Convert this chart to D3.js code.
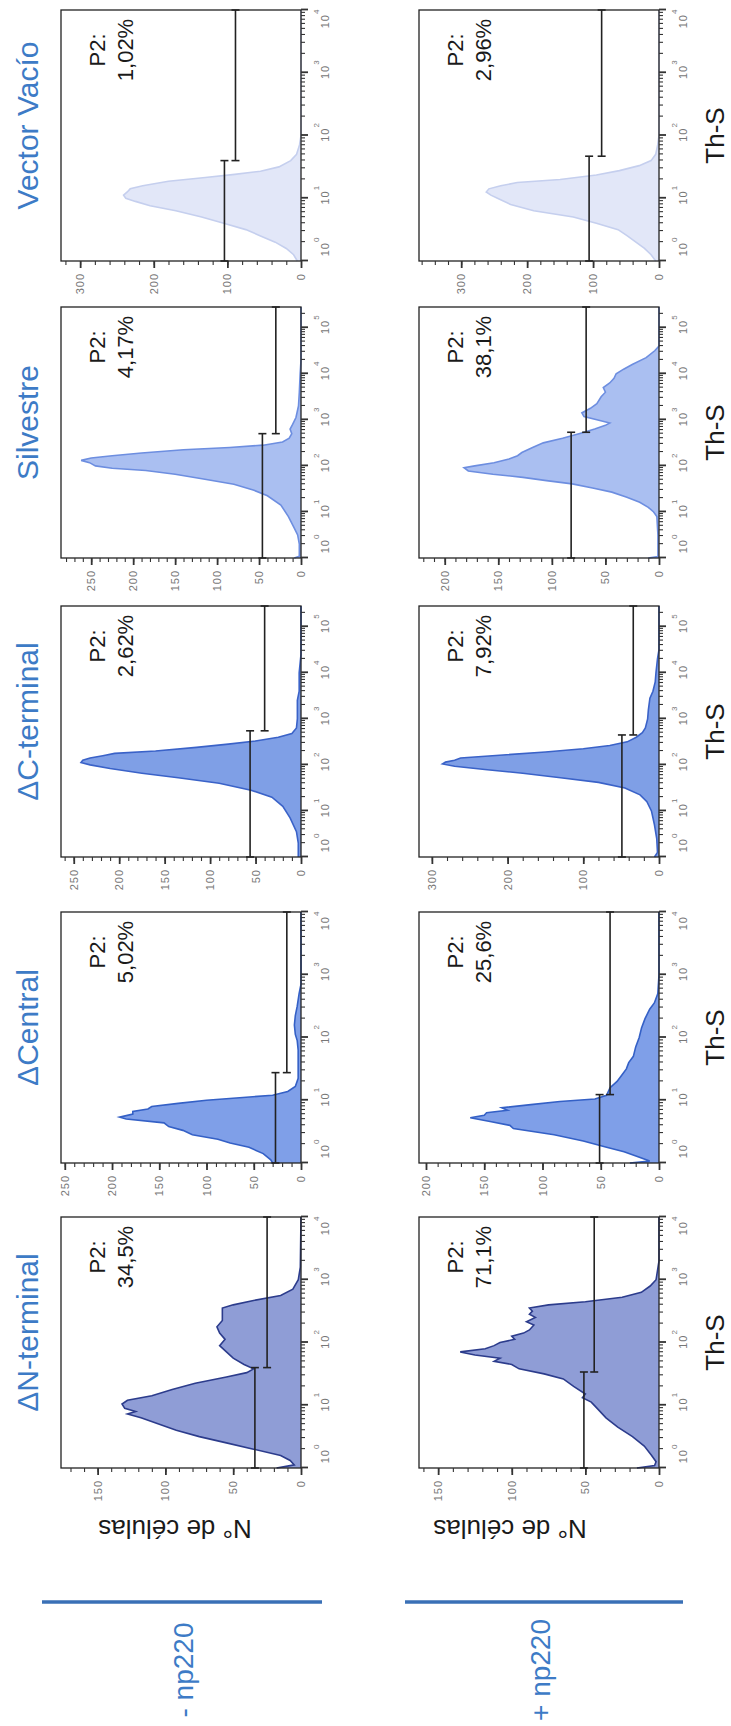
<!DOCTYPE html>
<html>
<head>
<meta charset="utf-8">
<script src="https://cdn.jsdelivr.net/npm/d3@7"></script>
<style>
body { margin: 0; background: #fff; }
text { font-family: "Liberation Sans", Arial, sans-serif; }
</style>
</head>
<body>
<div id="chart"></div>
<script>
// panel order, left to right, as the figure reads before it is turned on its side
var constructs = ["ΔN-terminal", "ΔCentral", "ΔC-terminal", "Silvestre", "Vector Vacío"];
var conditions = ["- np220", "+ np220"];
var p2Minus = ["34,5%", "5,02%", "2,62%", "4,17%", "1,02%"];
var p2Plus = ["71,1%", "25,6%", "7,92%", "38,1%", "2,96%"];

// top of the Th-S axis, in decades
var decadesMax = [4, 4, 5.45, 5.45, 4];
// top of the count axis and its labelled step
var countMaxMinus = [177, 254, 264, 286, 326];
var countMaxPlus = [163, 206, 317, 224, 364];
var countStepMinus = [50, 50, 50, 50, 100];
var countStepPlus = [50, 50, 100, 50, 100];

// gates: [P1/P2 boundary (log10 Th-S), P1 bar height, P2 bar height]
var gatesMinus = [[1.6, 34, 25], [1.44, 27, 15], [2.74, 56, 40], [2.7, 46, 30], [1.6, 104, 89]];
var gatesPlus = [[1.53, 51, 44], [1.09, 51, 42], [2.65, 49, 34], [2.73, 82, 68], [1.67, 106, 87]];

// histograms, points are [log10 Th-S, number of cells]
var histNtermMinus = [[0,18],[0.05,5],[0.12,8],[0.2,15],[0.3,35],[0.4,55],[0.5,75],[0.6,92],[0.7,105],[0.8,118],[0.86,128],[0.9,122],[0.95,130],[1.02,132],[1.08,128],[1.15,110],[1.25,95],[1.35,78],[1.45,55],[1.52,40],[1.58,35],[1.65,42],[1.75,50],[1.85,55],[1.95,60],[2.05,56],[2.15,60],[2.25,62],[2.35,58],[2.45,58],[2.55,58],[2.6,50],[2.67,35],[2.75,15],[2.85,6],[3.0,2],[3.2,0.5],[4,0]];
var histNtermPlus = [[0,15],[0.04,3],[0.1,2],[0.2,5],[0.35,10],[0.5,18],[0.65,28],[0.8,36],[0.95,42],[1.05,46],[1.12,52],[1.18,50],[1.3,58],[1.42,65],[1.5,78],[1.58,95],[1.65,100],[1.7,112],[1.75,108],[1.8,125],[1.85,135],[1.9,118],[1.95,112],[2.0,108],[2.05,98],[2.1,100],[2.15,92],[2.2,88],[2.28,85],[2.33,90],[2.4,84],[2.45,88],[2.5,86],[2.55,88],[2.6,75],[2.65,50],[2.72,25],[2.8,12],[2.9,6],[3.0,2],[3.3,0],[4,0]];
var histCentralMinus = [[0,30],[0.05,32],[0.15,40],[0.25,55],[0.32,75],[0.38,88],[0.45,115],[0.52,125],[0.58,140],[0.64,145],[0.7,185],[0.73,192],[0.78,178],[0.82,178],[0.86,162],[0.9,158],[0.95,130],[1.0,100],[1.04,65],[1.08,30],[1.14,14],[1.22,6],[1.35,3],[1.6,3],[1.8,3],[1.95,4],[2.05,6],[2.2,7],[2.35,6],[2.5,4],[2.7,2],[2.85,0],[4,0]];
var histCentralPlus = [[0,25],[0.03,8],[0.1,18],[0.18,30],[0.25,45],[0.35,65],[0.45,90],[0.55,125],[0.6,128],[0.66,145],[0.72,162],[0.76,150],[0.8,148],[0.84,130],[0.88,135],[0.93,110],[0.98,85],[1.02,55],[1.08,45],[1.2,42],[1.3,36],[1.4,32],[1.5,28],[1.6,26],[1.7,22],[1.85,20],[2.0,17],[2.15,15],[2.3,12],[2.45,8],[2.55,4],[2.7,1],[3,0],[4,0]];
var histCtermMinus = [[0,3],[0.3,3],[0.55,5],[0.85,12],[1.1,20],[1.3,32],[1.45,55],[1.6,90],[1.72,135],[1.82,175],[1.92,210],[2.0,232],[2.05,242],[2.1,240],[2.15,232],[2.2,218],[2.25,205],[2.3,160],[2.38,115],[2.45,80],[2.52,50],[2.6,25],[2.68,10],[2.8,5],[3.0,4],[3.4,4],[3.6,2],[4.0,2],[4.4,0],[5.45,0]];
var histCtermPlus = [[0,6],[0.1,2],[0.4,3],[0.7,6],[1.0,10],[1.2,16],[1.35,25],[1.5,45],[1.62,80],[1.72,130],[1.82,180],[1.9,230],[1.97,270],[2.02,286],[2.06,282],[2.1,270],[2.15,262],[2.2,220],[2.28,150],[2.35,100],[2.42,65],[2.5,42],[2.6,30],[2.7,22],[2.8,18],[3.0,15],[3.2,14],[3.45,12],[3.6,8],[3.8,5],[4.0,4],[4.3,2],[4.5,0],[5.45,0]];
var histWildMinus = [[0,8],[0.04,2],[0.3,2],[0.5,4],[0.65,8],[0.9,15],[1.15,24],[1.35,40],[1.47,56],[1.6,80],[1.72,118],[1.82,150],[1.9,185],[1.95,225],[2.0,245],[2.07,252],[2.12,262],[2.17,250],[2.22,225],[2.28,190],[2.35,140],[2.4,85],[2.45,45],[2.52,22],[2.6,14],[2.7,11],[2.8,13],[2.9,10],[3.05,6],[3.3,3],[3.6,2],[4.0,1],[4.3,0],[5.45,0]];
var histWildPlus = [[0,10],[0.03,1],[0.5,1],[0.9,2],[1.0,5],[1.1,10],[1.21,18],[1.32,30],[1.43,44],[1.52,62],[1.61,81],[1.68,105],[1.75,127],[1.82,155],[1.89,178],[1.96,182],[2.0,172],[2.07,154],[2.15,140],[2.22,132],[2.29,128],[2.4,118],[2.5,108],[2.6,90],[2.71,73],[2.8,60],[2.88,50],[2.93,46],[3.0,58],[3.07,70],[3.15,72],[3.25,64],[3.35,58],[3.5,54],[3.6,50],[3.7,52],[3.8,46],[3.9,42],[4.0,40],[4.1,33],[4.2,25],[4.35,12],[4.5,4],[4.6,0],[5.45,0]];
var histEmptyMinus = [[0,5],[0.1,10],[0.2,20],[0.3,35],[0.4,55],[0.5,75],[0.6,105],[0.7,135],[0.8,170],[0.88,205],[0.95,225],[1.0,238],[1.05,241],[1.1,236],[1.15,232],[1.2,215],[1.27,180],[1.33,130],[1.38,90],[1.43,55],[1.5,30],[1.6,14],[1.7,6],[1.85,2],[2.0,0],[4,0]];
var histEmptyPlus = [[0,5],[0.1,12],[0.2,22],[0.3,35],[0.4,48],[0.5,62],[0.6,95],[0.7,130],[0.8,190],[0.9,225],[1.0,245],[1.05,255],[1.1,262],[1.15,258],[1.2,240],[1.25,215],[1.3,150],[1.37,95],[1.44,60],[1.52,30],[1.6,12],[1.7,5],[1.85,2],[2.0,0],[4,0]];

var histMinus = [histNtermMinus, histCentralMinus, histCtermMinus, histWildMinus, histEmptyMinus];
var histPlus = [histNtermPlus, histCentralPlus, histCtermPlus, histWildPlus, histEmptyPlus];

var fills = ["#8f9dd6", "#7f9fe8", "#7f9fe6", "#aabff1", "#e2e7f8"];
var strokes = ["#2c3c8c", "#3460c6", "#3a62c8", "#6d8ee0", "#c5cfee"];
var blue = "#3d7bc6";

// the figure is laid out landscape, then turned a quarter turn anticlockwise
var W = 1726, H = 731;
var svg = d3.select("#chart").append("svg")
    .attr("width", H)
    .attr("height", W);
var fig = svg.append("g")
    .attr("transform", "translate(0," + W + ") rotate(-90)");

var panelLeft = [258, 563, 869, 1168, 1465];
var panelW = 251, panelH = 240;
var rowTop = [61, 419];

var rows = [
  {p2: p2Minus, cmax: countMaxMinus, step: countStepMinus, gates: gatesMinus, hist: histMinus},
  {p2: p2Plus, cmax: countMaxPlus, step: countStepPlus, gates: gatesPlus, hist: histPlus}
];

rows.forEach(function(row, r){
  var y0 = rowTop[r];

  constructs.forEach(function(name, c){
    var x0 = panelLeft[c];
    var x = d3.scaleLog().domain([1, Math.pow(10, decadesMax[c])]).range([x0, x0 + panelW]);
    var y = d3.scaleLinear().domain([0, row.cmax[c]]).range([y0 + panelH, y0]);
    var g = fig.append("g");

    // histogram
    var area = d3.area()
      .x(function(d){ return x(Math.pow(10, d[0])); })
      .y0(y(0))
      .y1(function(d){ return y(d[1]); });
    var line = d3.line()
      .x(function(d){ return x(Math.pow(10, d[0])); })
      .y(function(d){ return y(d[1]); });
    g.append("path").datum(row.hist[c])
      .attr("d", area)
      .attr("fill", fills[c]);
    g.append("path").datum(row.hist[c])
      .attr("d", line)
      .attr("fill", "none")
      .attr("stroke", strokes[c])
      .attr("stroke-width", 1.6);

    // frame
    g.append("rect")
      .attr("x", x0).attr("y", y0)
      .attr("width", panelW).attr("height", panelH)
      .attr("fill", "none")
      .attr("stroke", "#222")
      .attr("stroke-width", 1.3);

    // count axis
    var step = row.step[c];
    var yMajor = d3.range(0, row.cmax[c] + 0.1, step);
    var yMinor = d3.range(0, row.cmax[c] + 0.1, step / 5);
    var yMin = g.append("g").attr("transform", "translate(" + x0 + ",0)")
      .call(d3.axisLeft(y).tickValues(yMinor).tickSize(4).tickFormat(""));
    var yMaj = g.append("g").attr("transform", "translate(" + x0 + ",0)")
      .call(d3.axisLeft(y).tickValues(yMajor).tickSize(7).tickPadding(5).tickFormat(d3.format("d")));
    [yMin, yMaj].forEach(function(a){
      a.select(".domain").remove();
      a.selectAll("line").attr("stroke", "#333").attr("stroke-width", 1.1);
    });
    yMaj.selectAll("line").attr("stroke-width", 1.8);
    yMaj.selectAll("text")
      .attr("font-size", 11)
      .attr("fill", "#777")
      .attr("letter-spacing", 1)
      .style("font-family", '"Liberation Sans", Arial, sans-serif');

    // Th-S axis, log decades with minor ticks
    var top = decadesMax[c];
    var xMajor = d3.range(0, Math.floor(top) + 1).map(function(k){ return Math.pow(10, k); });
    var xMinor = [];
    xMajor.forEach(function(v){
      for (var m = 2; m < 10; m++){
        if (Math.log10(m * v) <= top) xMinor.push(m * v);
      }
    });
    var xMin = g.append("g").attr("transform", "translate(0," + (y0 + panelH) + ")")
      .call(d3.axisBottom(x).tickValues(xMinor).tickSize(4).tickFormat(""));
    var xMaj = g.append("g").attr("transform", "translate(0," + (y0 + panelH) + ")")
      .call(d3.axisBottom(x).tickValues(xMajor).tickSize(7).tickFormat(""));
    [xMin, xMaj].forEach(function(a){
      a.select(".domain").remove();
      a.selectAll("line").attr("stroke", "#333").attr("stroke-width", 1.1);
    });
    xMaj.selectAll("line").attr("stroke-width", 1.8);

    xMajor.forEach(function(v, k){
      var lx = k === 0 ? x0 + 14 : Math.min(x(v) + 3, x0 + panelW - 9);
      var t = g.append("text")
        .attr("x", lx)
        .attr("y", y0 + panelH + 28)
        .attr("text-anchor", "middle")
        .attr("fill", "#777")
        .attr("font-size", 11);
      t.append("tspan").attr("letter-spacing", 1).text("10");
      t.append("tspan").attr("dy", -10).attr("font-size", 8).text(k);
    });

    // gates P1 and P2
    var gate = row.gates[c];
    var xb = x(Math.pow(10, gate[0]));
    var segs = [[x0, xb, y(gate[1])], [xb, x0 + panelW, y(gate[2])]];
    segs.forEach(function(s){
      g.append("line")
        .attr("x1", s[0]).attr("x2", s[1])
        .attr("y1", s[2]).attr("y2", s[2])
        .attr("stroke", "#222").attr("stroke-width", 1.6);
      [s[0], s[1]].forEach(function(e){
        g.append("line")
          .attr("x1", e).attr("x2", e)
          .attr("y1", s[2] - 4).attr("y2", s[2] + 4)
          .attr("stroke", "#222").attr("stroke-width", 1.6);
      });
    });

    // P2 label
    g.append("text")
      .attr("x", x0 + panelW - 40).attr("y", y0 + 44)
      .attr("text-anchor", "middle")
      .attr("font-size", 22).attr("fill", "#1a1a1a")
      .text("P2:");
    g.append("text")
      .attr("x", x0 + panelW - 40).attr("y", y0 + 72)
      .attr("text-anchor", "middle")
      .attr("font-size", 22).attr("fill", "#1a1a1a")
      .text(row.p2[c]);

    if (r === 0) {
      fig.append("text")
        .attr("x", x0 + panelW / 2 + 10).attr("y", 38)
        .attr("text-anchor", "middle")
        .attr("font-size", 30).attr("fill", blue)
        .text(name);
    } else {
      fig.append("text")
        .attr("x", x0 + panelW / 2).attr("y", 724)
        .attr("text-anchor", "middle")
        .attr("font-size", 26).attr("fill", "#1a1a1a")
        .text("Th-S");
    }
  });

  // row heading, separator line and count title
  var labelY = [193, 550];
  var lineY = [[42, 322], [405, 683]];
  var titleY = [175, 510];
  fig.append("text")
    .attr("x", 56).attr("y", labelY[r])
    .attr("text-anchor", "middle")
    .attr("font-size", 28).attr("fill", blue)
    .text(conditions[r]);
  fig.append("line")
    .attr("x1", 124).attr("x2", 124)
    .attr("y1", lineY[r][0]).attr("y2", lineY[r][1])
    .attr("stroke", "#3a70b6").attr("stroke-width", 3.5);
  fig.append("text")
    .attr("transform", "translate(206," + titleY[r] + ") rotate(-90)")
    .attr("text-anchor", "middle")
    .attr("font-size", 26).attr("fill", "#1a1a1a")
    .text("N° de células");
});
</script>
</body>
</html>
